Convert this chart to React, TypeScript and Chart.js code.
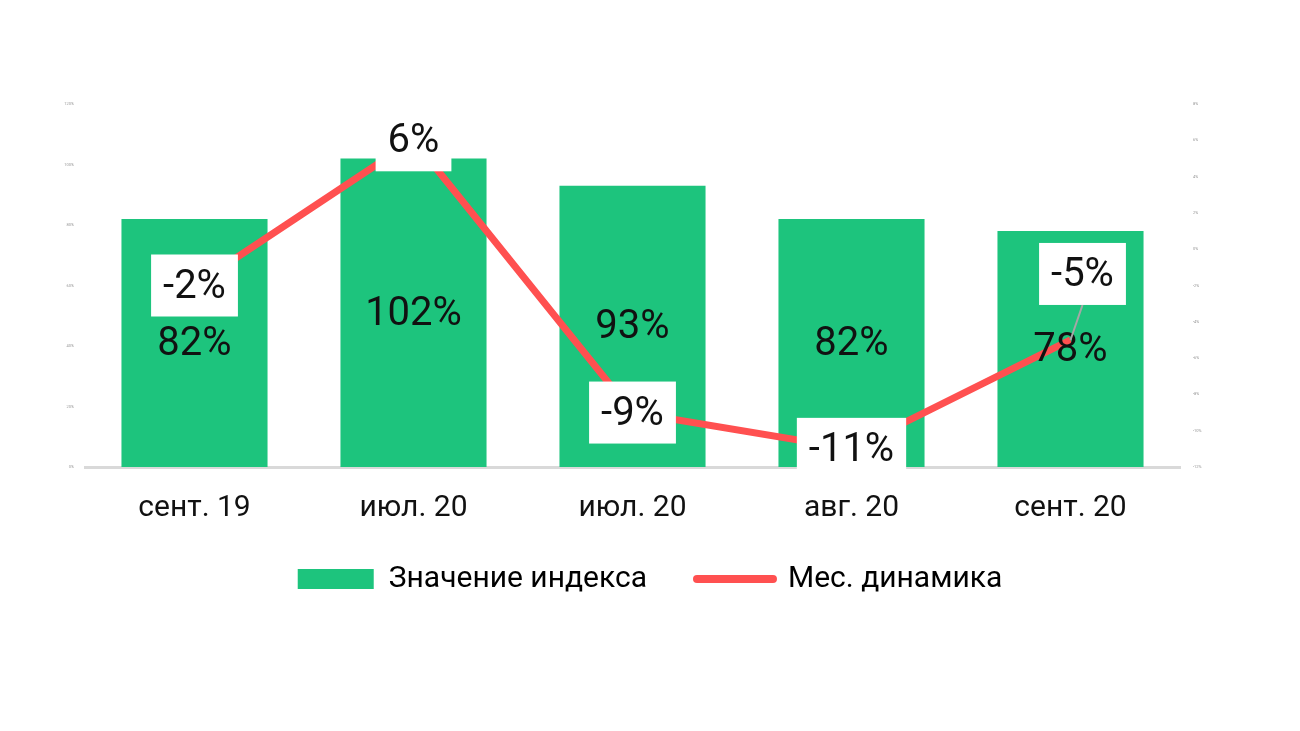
import React, { useEffect, useRef } from 'react';
import { Chart, registerables } from 'chart.js';

Chart.register(...registerables);

// Chart data
const categories = ['сент. 19', 'июл. 20', 'июл. 20', 'авг. 20', 'сент. 20'];
const indexValues = [82, 102, 93, 82, 78];
const monthlyChange = [-2, 6, -9, -11, -5];

const leftTicks = [0, 20, 40, 60, 80, 100, 120];
const rightTicks = [-12, -10, -8, -6, -4, -2, 0, 2, 4, 6, 8];

const GREEN = '#1dc47d';
const RED = '#ff5050';
const FONT = 'Roboto, "Noto Sans", sans-serif';

// label of the last line point is moved up to avoid the bar label
const shiftedLabels: Record<number, { dx: number; dy: number }> = {
  4: { dx: 12, dy: -66 },
};

const labelsPlugin = {
  id: 'valueLabels',
  afterLayout(chart: any) {
    // pull the legend a bit closer to the axis labels
    if (chart.legend) {
      chart.legend.top -= 23;
      chart.legend.bottom -= 23;
    }
  },
  afterDatasetsDraw(chart: Chart) {
    const ctx = chart.ctx;
    ctx.save();
    ctx.font = `40px ${FONT}`;
    ctx.textAlign = 'center';
    ctx.textBaseline = 'middle';

    // bar labels in the middle of each bar
    const barMeta = chart.getDatasetMeta(0);
    barMeta.data.forEach((el: any, i: number) => {
      const { x, y, base } = el.getProps(['x', 'y', 'base'], true);
      ctx.fillStyle = '#111';
      ctx.fillText(`${indexValues[i]}%`, x, (y + base) / 2 + 2);
    });

    // line labels in white boxes
    const lineMeta = chart.getDatasetMeta(1);
    lineMeta.data.forEach((el: any, i: number) => {
      const { x, y } = el.getProps(['x', 'y'], true);
      const shift = shiftedLabels[i] || { dx: 0, dy: 0 };
      const cx = x + shift.dx;
      const cy = y + shift.dy;
      const text = `${monthlyChange[i]}%`;
      const w = ctx.measureText(text).width + 24;
      const h = 62;
      if (shift.dx || shift.dy) {
        ctx.strokeStyle = '#a6a6a6';
        ctx.lineWidth = 2;
        ctx.beginPath();
        ctx.moveTo(x, y);
        ctx.lineTo(cx, cy + h / 2);
        ctx.stroke();
      }
      ctx.fillStyle = '#ffffff';
      ctx.fillRect(cx - w / 2, cy - h / 2, w, h);
      ctx.fillStyle = '#111';
      ctx.fillText(text, cx, cy + 2);
    });
    ctx.restore();
  },
};

const App: React.FC = () => {
  const chartRef = useRef<HTMLCanvasElement | null>(null);
  const chartInstance = useRef<Chart | null>(null);

  useEffect(() => {
    document.body.style.margin = '0';
    if (!chartRef.current) return;
    if (chartInstance.current) chartInstance.current.destroy();
    const ctx = chartRef.current.getContext('2d');
    if (!ctx) return;

    chartInstance.current = new Chart(ctx, {
      type: 'bar',
      data: {
        labels: categories,
        datasets: [
          {
            type: 'bar',
            label: 'Значение индекса',
            data: indexValues,
            backgroundColor: GREEN,
            borderWidth: 0,
            barPercentage: 0.667,
            categoryPercentage: 1,
            yAxisID: 'y',
            order: 2,
          },
          {
            type: 'line',
            label: 'Мес. динамика',
            data: monthlyChange,
            borderColor: RED,
            backgroundColor: RED,
            borderWidth: 7,
            pointRadius: 0,
            tension: 0,
            fill: false,
            yAxisID: 'y1',
            order: 1,
          } as any,
        ],
      },
      options: {
        animation: false,
        responsive: false,
        maintainAspectRatio: false,
        layout: { padding: { top: 104, bottom: 104, left: 0, right: 0 } },
        plugins: {
          tooltip: { enabled: false },
          title: { display: false },
          legend: {
            display: true,
            position: 'bottom',
            labels: {
              color: '#111',
              font: { family: FONT, size: 30 },
              usePointStyle: true,
              pointStyleWidth: 76,
              boxHeight: 20,
              padding: 50,
              generateLabels: () => [
                {
                  text: 'Значение индекса',
                  fillStyle: GREEN,
                  strokeStyle: GREEN,
                  lineWidth: 0,
                  pointStyle: 'rect',
                  datasetIndex: 0,
                  hidden: false,
                },
                {
                  text: 'Мес. динамика',
                  fillStyle: RED,
                  strokeStyle: RED,
                  lineWidth: 8,
                  lineCap: 'round',
                  pointStyle: 'line',
                  datasetIndex: 1,
                  hidden: false,
                } as any,
              ],
            },
          },
        },
        scales: {
          x: {
            grid: { display: false },
            border: { display: true, color: '#d9d9d9', width: 3 },
            ticks: { color: '#111', font: { family: FONT, size: 30 }, padding: 15 },
            afterFit: (scale: any) => {
              scale.height = 70;
            },
          },
          y: {
            position: 'left',
            min: 0,
            max: 120,
            afterBuildTicks: (scale: any) => {
              scale.ticks = leftTicks.map((v) => ({ value: v }));
            },
            afterFit: (scale: any) => {
              scale.width = 85;
            },
            grid: { display: false },
            border: { display: false },
            ticks: {
              color: '#999',
              font: { family: FONT, size: 4 },
              padding: 3,
              callback: (v: any) => `${v}%`,
            },
          },
          y1: {
            position: 'right',
            min: -12,
            max: 8,
            afterBuildTicks: (scale: any) => {
              scale.ticks = rightTicks.map((v) => ({ value: v }));
            },
            afterFit: (scale: any) => {
              scale.width = 120;
            },
            grid: { display: false, drawOnChartArea: false },
            border: { display: false },
            ticks: {
              color: '#999',
              font: { family: FONT, size: 4 },
              padding: 5,
              callback: (v: any) => `${v}%`,
            },
          },
        },
      },
      plugins: [labelsPlugin],
    });

    return () => {
      if (chartInstance.current) {
        chartInstance.current.destroy();
        chartInstance.current = null;
      }
    };
  }, []);

  return (
    <div style={{ width: '1300px', height: '731px', background: '#fff' }}>
      <canvas ref={chartRef} width={1300} height={731} style={{ display: 'block' }} />
    </div>
  );
};

export default App;
